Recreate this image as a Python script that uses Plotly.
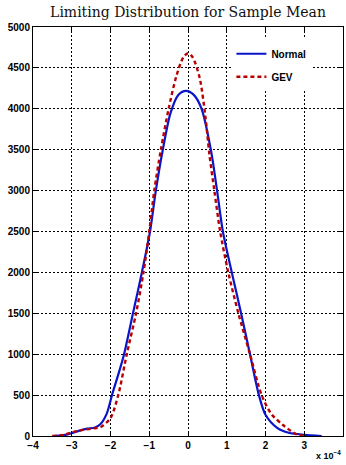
import plotly.graph_objects as go

# x values in units of 1e-4
normal_x = [-3.5, -3.2, -3.0, -2.8, -2.6, -2.4, -2.25, -2.1, -1.95, -1.8, -1.65, -1.42, -1.19, -0.98, -0.83,
            -0.65, -0.45, -0.25, -0.05, 0.15, 0.35, 0.59, 0.75, 0.90, 1.13, 1.37, 1.60, 1.83, 2.0, 2.3, 2.6, 3.0, 3.45]
normal_y = [0, 10, 35, 65, 90, 105, 150, 270, 520, 750, 1000, 1500, 2000, 2500, 3000,
            3500, 3950, 4170, 4220, 4170, 4000, 3500, 3000, 2500, 2000, 1500, 1000, 500, 260, 100, 40, 15, 0]

gev_x = [-3.5, -3.2, -3.0, -2.7, -2.4, -2.25, -2.0, -1.8, -1.58, -1.34, -1.15, -1.0, -0.87, -0.70, -0.5,
         -0.3, -0.12, 0.0, 0.12, 0.3, 0.45, 0.55, 0.68, 0.83, 1.04, 1.3, 1.6, 1.9, 2.15, 2.45, 2.8, 3.0]
gev_y = [0, 15, 45, 75, 95, 110, 220, 500, 1000, 1500, 2000, 2500, 3000, 3500, 4000,
         4400, 4630, 4680, 4630, 4380, 3900, 3450, 3000, 2500, 2000, 1500, 1000, 500, 270, 135, 20, 0]

x_ticks = [-4, -3, -2, -1, 0, 1, 2, 3, 4]
y_ticks = [0, 500, 1000, 1500, 2000, 2500, 3000, 3500, 4000, 4500, 5000]

fig = go.Figure()
fig.add_trace(go.Scatter(x=normal_x, y=normal_y, mode="lines", name="Normal",
                         line=dict(color="#0a14c8", width=2.2, shape="spline", smoothing=0.8),
                         legendgroup="a"))
fig.add_trace(go.Scatter(x=gev_x, y=gev_y, mode="lines", name="GEV",
                         line=dict(color="#b80000", width=2.4, dash="4px,3px", shape="spline", smoothing=0.8),
                         legendgroup="b"))

axis_common = dict(showline=True, linecolor="black", linewidth=1, mirror="ticks",
                   ticks="inside", ticklen=4, tickcolor="black",
                   showgrid=True, gridcolor="black", gridwidth=1, griddash="2px,2px",
                   zeroline=False,
                   tickfont=dict(family="Liberation Sans", size=10, color="black", weight="bold"))

fig.update_layout(
    width=346, height=465,
    margin=dict(l=33, r=3, t=27, b=29),
    paper_bgcolor="white", plot_bgcolor="white",
    title=dict(text="Limiting Distribution for Sample Mean", x=0.5, xref="paper", y=0.973, yanchor="middle",
               font=dict(family="DejaVu Serif", size=14, color="#111")),
    xaxis=dict(range=[-4, 4], tickvals=x_ticks, ticktext=[("−" + str(-v)) if v < 0 else str(v) for v in x_ticks],
               **axis_common),
    yaxis=dict(range=[0, 5000], tickvals=y_ticks, **axis_common),
    legend=dict(x=0.64, y=0.97, xanchor="left", yanchor="top", bgcolor="white", borderwidth=0,
                font=dict(family="Liberation Sans", size=10, color="black", weight="bold"),
                tracegroupgap=4),
    showlegend=True,
)

fig.add_annotation(text="x 10<sup>−4</sup>", xref="paper", yref="paper", x=1.0, y=-0.066,
                   xanchor="right", yanchor="bottom", showarrow=False,
                   font=dict(family="Liberation Sans", size=9, color="black", weight="bold"))

fig.write_html("out.html")
